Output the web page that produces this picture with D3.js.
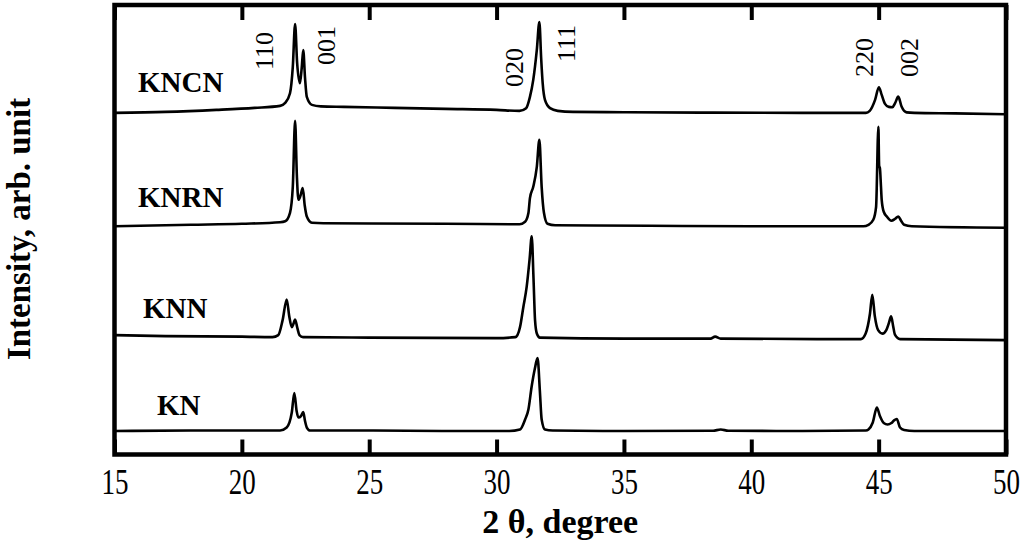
<!DOCTYPE html>
<html>
<head>
<meta charset="utf-8">
<script src="https://cdn.jsdelivr.net/npm/d3@7"></script>
<style>
  html, body { margin: 0; padding: 0; background: #fff; }
  svg { display: block; }
  text { font-family: "Liberation Serif", "Times New Roman", serif; fill: #000; }
</style>
</head>
<body>
<svg id="chart" width="1024" height="547"></svg>
<script>
// ---------------- DATA ----------------
const seriesNames = ["KN", "KNN", "KNRN", "KNCN"];
// vertical stacking offsets (arb. units)
const seriesOffsets = [23.5, 116.5, 229, 342];

// [2theta (deg), intensity above own baseline (arb. units)]
const KN = [
  [15,0],[18,0.5],[20,0.5],[21.5,0.5],[21.76,3.5],[21.96,18.5],[22.06,38],[22.15,20],[22.22,13.5],
  [22.32,15],[22.41,19],[22.48,10],[22.55,3.5],[22.68,0.5],[25,0.5],[28,0],[30.5,0],[30.92,1.5],
  [31.12,11.5],[31.25,21.5],[31.38,45],[31.5,62],[31.61,73],[31.7,40],[31.77,11.5],[31.9,1.5],
  [32.2,0.5],[35,0],[38.5,0.3],[38.8,1.5],[39.1,0.3],[42,0],[44.5,0.5],[44.6,1.5],[44.77,8.5],
  [44.93,23.5],[45.05,15],[45.2,8],[45.35,6.5],[45.5,8],[45.6,10.5],[45.71,12],[45.84,3.5],
  [46.0,1],[46.4,0],[50,0]
];
const KNN = [
  [15,3],[17,2],[20,1.5],[21.2,1],[21.43,3],[21.6,18],[21.76,38.7],[21.86,22],[21.96,11],
  [22.02,14],[22.09,18.7],[22.18,10],[22.26,3],[22.4,1],[25,0.5],[30,0],[30.74,1],[30.92,11],
  [31.05,31],[31.18,51],[31.3,80],[31.38,102],[31.45,60],[31.51,18],[31.58,4.7],[31.7,0.5],
  [35,-0.5],[38.4,-0.5],[38.58,1.5],[38.8,-0.5],[44.3,-1],[44.49,4.7],[44.66,24.7],[44.75,43.5],
  [44.85,22],[44.98,8],[45.15,4.5],[45.3,8],[45.4,15],[45.49,21.8],[45.57,12],[45.64,3.5],
  [45.84,-1],[50,-2]
];
const KNRN = [
  [15,-0.5],[18,1],[20,2],[21.5,3.5],[21.7,4.5],[21.89,13],[22.0,39],[22.09,105],[22.16,50],
  [22.22,26],[22.3,30],[22.39,37.7],[22.47,20],[22.55,9.3],[22.75,3],[23.2,2.5],[28,2],
  [30.9,1.5],[31.12,4],[31.25,12.7],[31.31,27.7],[31.44,39],[31.58,59],[31.68,86],[31.77,39],
  [31.86,13],[32.0,2],[32.3,0.5],[36,0],[40,-0.5],[44.4,-0.5],[44.6,1],[44.79,6],[44.9,19],
  [44.99,99],[45.02,60],[45.05,57.7],[45.09,40],[45.12,26],[45.2,14],[45.32,9.3],[45.5,5],
  [45.65,7],[45.77,9.3],[45.88,5],[46.0,1],[46.3,-0.5],[50,-2]
];
const KNCN = [
  [15,0],[17,1],[19,3],[20.5,5],[21.5,7],[21.7,10],[21.89,19.7],[22.0,46],[22.09,89],[22.17,50],
  [22.28,29.7],[22.35,45],[22.41,63],[22.48,35],[22.55,16],[22.75,8],[23.1,6.5],[24,6],[26,5],
  [28,4],[30,3],[30.9,2],[31.16,4.7],[31.31,16],[31.44,33],[31.58,63],[31.68,91],[31.75,55],
  [31.81,29.7],[31.9,13],[32.1,4.7],[32.4,2],[33,1],[35,0.7],[38,0.3],[42,0],[44.5,0],
  [44.65,2],[44.86,13],[45.01,25.7],[45.12,18],[45.25,9],[45.4,6],[45.54,5.7],[45.65,10],
  [45.77,16.3],[45.9,6.3],[46.1,0.5],[46.4,0],[48,-0.5],[50,-1.3]
];
const seriesData = [KN, KNN, KNRN, KNCN];

const peakLabels = ["110", "001", "020", "111", "220", "002"];
const xTicks = [15, 20, 25, 30, 35, 40, 45, 50];
const xDomain = [15, 50];
const yDomain = [0, 450];
const xTitle = "2 \u03B8, degree";
const yTitle = "Intensity, arb. unit";

// ---------------- LAYOUT ----------------
const L = 114.5, R = 1006, T = 5, B = 454.5;
const seriesLabelPos = [[157, 415], [143, 318], [138, 207], [138, 92]];
const peakLabelPos = [[273, 70], [335, 65], [523, 87], [575, 62], [873, 77], [918, 77]];

const svg = d3.select("#chart");
const x = d3.scaleLinear().domain(xDomain).range([L, R]);
const y = d3.scaleLinear().domain(yDomain).range([B, T]);

svg.append("defs").append("clipPath").attr("id", "clip")
  .append("rect").attr("x", L).attr("y", T).attr("width", R - L).attr("height", B - T);

const line = d3.line()
  .x(d => x(d[0]))
  .curve(d3.curveMonotoneX);

const gLines = svg.append("g").attr("clip-path", "url(#clip)");
seriesData.forEach((data, i) => {
  gLines.append("path")
    .datum(data)
    .attr("fill", "none")
    .attr("stroke", "#000")
    .attr("stroke-width", 2.6)
    .attr("stroke-linejoin", "round")
    .attr("d", line.y(d => y(d[1] + seriesOffsets[i])));
});

// axes (inward ticks)
const axB = svg.append("g").attr("transform", `translate(0,${B})`)
  .call(d3.axisBottom(x).tickValues(xTicks).tickSize(-15).tickFormat(d3.format("d")));
const axT = svg.append("g").attr("transform", `translate(0,${T})`)
  .call(d3.axisTop(x).tickValues(xTicks).tickSize(-15).tickFormat(""));
[axB, axT].forEach(g => {
  g.select(".domain").remove();
  g.selectAll(".tick line").attr("stroke", "#000").attr("stroke-width", 4);
});
axB.selectAll(".tick text")
  .attr("y", 39.5).attr("dy", 0)
  .attr("font-size", 36)
  .attr("font-family", "Liberation Serif")
  .attr("transform", "scale(0.75,1)")
  .attr("fill", "#000");

// frame
svg.append("rect")
  .attr("x", L).attr("y", T).attr("width", R - L).attr("height", B - T)
  .attr("fill", "none").attr("stroke", "#000").attr("stroke-width", 4.5);

// series labels
seriesNames.forEach((n, i) => {
  svg.append("text")
    .attr("x", seriesLabelPos[i][0]).attr("y", seriesLabelPos[i][1])
    .attr("font-size", 29).attr("font-weight", "bold")
    .text(n);
});

// peak (hkl) labels
peakLabels.forEach((t, i) => {
  svg.append("text")
    .attr("transform", `translate(${peakLabelPos[i][0]},${peakLabelPos[i][1]}) rotate(-90)`)
    .attr("font-size", 26)
    .attr("font-family", "Liberation Serif")
    .text(t);
});

// axis titles
svg.append("text")
  .attr("x", (L + R) / 2).attr("y", 533)
  .attr("text-anchor", "middle")
  .attr("font-size", 34).attr("font-weight", "bold")
  .text(xTitle);

svg.append("text")
  .attr("transform", "translate(30,229) rotate(-90)")
  .attr("text-anchor", "middle")
  .attr("font-size", 33).attr("font-weight", "bold")
  .text(yTitle);
</script>
</body>
</html>
